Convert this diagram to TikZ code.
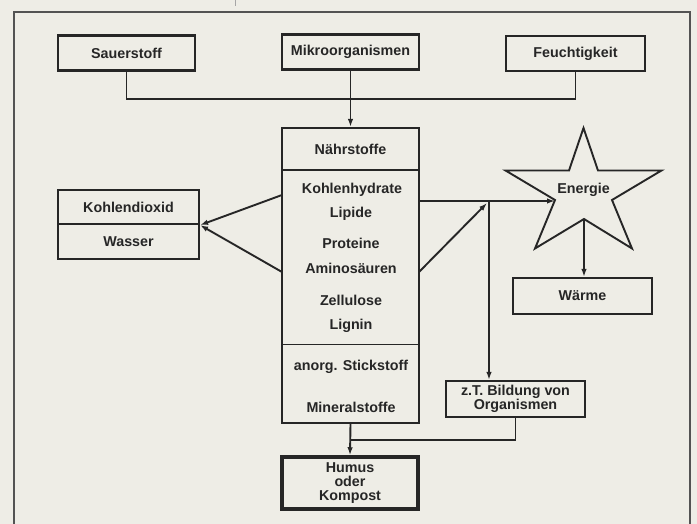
\documentclass[tikz,border=0pt]{standalone}
\usepackage{fontspec}
\setmainfont{Liberation Sans}
\usepackage{xcolor}
\usepackage{tikz}
\usetikzlibrary{arrows.meta,positioning,calc}
\definecolor{papier}{HTML}{EEEDE6}
\definecolor{tinte}{HTML}{262626}

\begin{document}
\begin{tikzpicture}[
  x=1pt,y=-1pt,
  every node/.style={font=\bfseries\fontsize{14.3}{14}\selectfont,text=tinte},
  kasten/.style={draw=tinte,line width=2.2pt,minimum width=137pt,
                 minimum height=35pt,inner sep=0pt,align=center},
  eintrag/.style={inner sep=0pt},
  linie/.style={draw=tinte,line width=1.9pt},
  pfeil/.style={linie,-{Latex[length=8pt,width=5.5pt]}},
  rahmen/.style={draw=gray!65!black,line width=1.2pt}]

  % --- paper and scan frame
  \useasboundingbox (0,0) rectangle (697,524);
  \fill[papier] (0,0) rectangle (697,524);
  \draw[rahmen] (14,524) -- (14,12) -- (690,12) -- (690,524);
  \draw[gray!70,line width=1pt] (235,0) -- (235,6);

  % --- three inputs on top
  \node[kasten] (sauer)  at (126.5,53)   {Sauerstoff};
  \node[kasten] (mikro)  at (350.5,52)   {Mikroorganismen};
  \node[kasten,minimum width=139pt] (feucht) at (575.5,53.5) {Feuchtigkeit};

  % --- main box: header + list of nutrients
  \node[kasten,minimum height=42pt] (naehr) at (350.5,149) {N\"ahrstoffe};
  \node[kasten,minimum height=253pt] (body) at (350.5,296.5) {};
  \draw[tinte,line width=0.8pt] (282,344) -- (419,344);
  \node[eintrag] (kh)      at (352,190) {Kohlenhydrate};
  \node[eintrag] (lip)     at (351,214) {Lipide};
  \node[eintrag] (prot)    at (351,243) {Proteine};
  \node[eintrag] (amino)   at (351,268) {Aminos\"auren};
  \node[eintrag] (zell)    at (351,300) {Zellulose};
  \node[eintrag] (lig)     at (351,326) {Lignin};
  \node[eintrag] (anorg)   at (351,367) {anorg. Stickstoff};
  \node[eintrag] (mineral) at (351,407) {Mineralstoffe};

  % --- left products
  \node[kasten,minimum width=141pt,minimum height=34pt] (co2)    at (128.5,207)   {Kohlendioxid};
  \node[kasten,minimum width=141pt,minimum height=35pt] (wasser) at (128.5,241.5) {Wasser};

  % --- Energie star (drawn as polygon), Waerme, Organismen
  \draw[linie,line join=miter] (583.5,128) -- (598,170.5) -- (661.5,170.5) -- (612,200)
        -- (632,248.5) -- (584,219) -- (535,248.5) -- (555,200)
        -- (505.5,170.5) -- (569,170.5) -- cycle;
  \node[eintrag] (energie) at (583.5,190) {Energie};
  \coordinate (sl) at (555,201);
  \coordinate (sb) at (584,219);
  \node[kasten,minimum width=139pt,minimum height=36pt] (waerme) at (582.5,296) {W\"arme};
  \node[kasten,minimum width=139pt,minimum height=36pt,
        font=\bfseries\fontsize{14.3}{13.5}\selectfont] (zt) at (515.5,399)
        {z.T. Bildung von\\Organismen};

  % --- end product
  \node[kasten,line width=3.5pt,minimum width=136pt,minimum height=52pt,
        font=\bfseries\fontsize{14.3}{14}\selectfont] (humus) at (350,483)
        {Humus\\oder\\Kompost};

  % --- connectors on top
  \draw[linie] (sauer.south) |- (350.5,99) -| (feucht.south);
  \draw[pfeil] (mikro.south) -- (naehr.north);

  % --- to CO2 / water
  \coordinate (l1) at (282,195);
  \coordinate (l2) at (282,272);
  \draw[pfeil] (l1) -- (co2.south east);
  \draw[pfeil] (l2) -- (co2.south east);

  % --- to Energie and Organismen
  \coordinate (r1) at (419,201);
  \coordinate (r2) at (419,272);
  \coordinate (ab) at (489,201);
  \draw[pfeil] (r1) -- (sl);
  \draw[pfeil] (r2) -- (487,203);
  \draw[pfeil] (ab) -- (ab |- zt.north);
  \draw[pfeil] (sb) -- (sb |- waerme.north);

  % --- down to Humus
  \draw[pfeil] (body.south) -- (humus.north);
  \draw[linie] (zt.south) |- (350,440);
\end{tikzpicture}
\end{document}
